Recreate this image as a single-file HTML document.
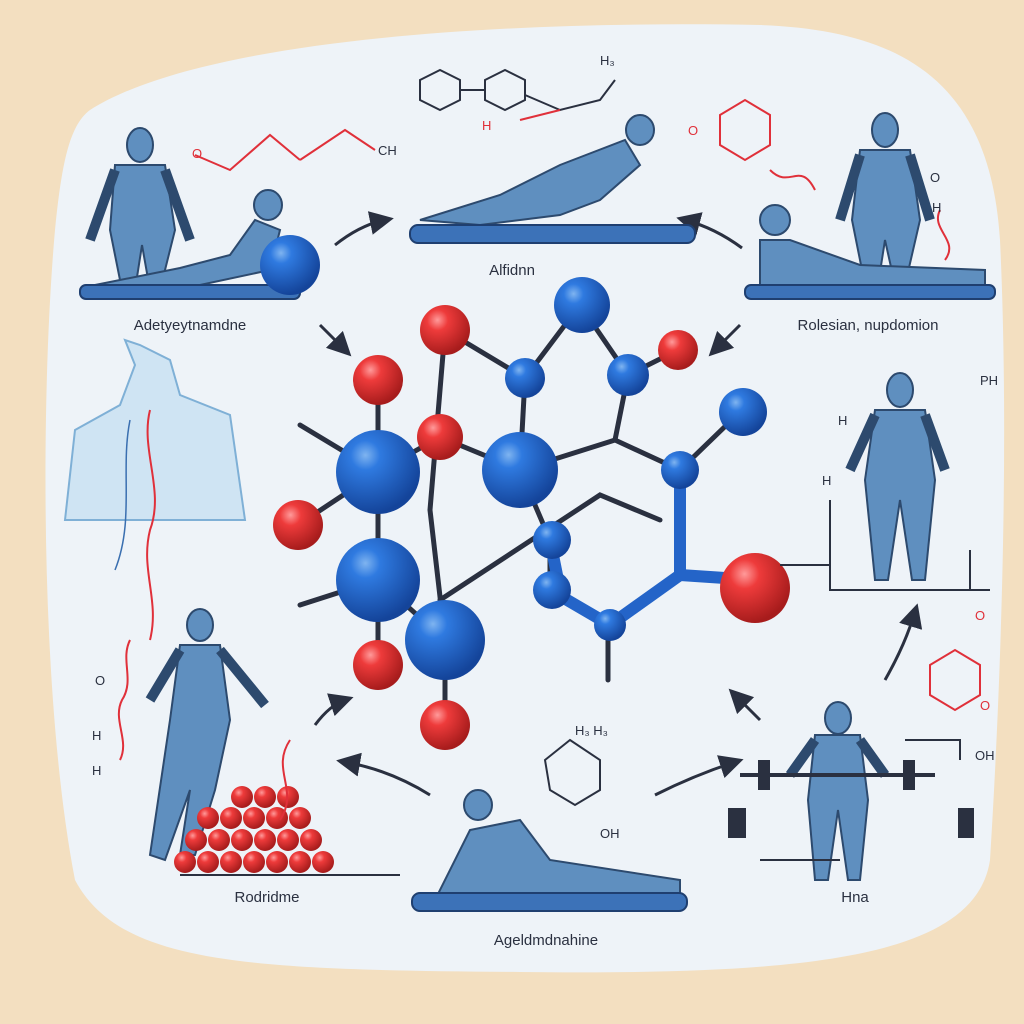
<!DOCTYPE html>
<html><head><meta charset="utf-8"><style>
html,body{margin:0;padding:0;background:#f3dfc0;}
svg{display:block;}
text{font-family:"Liberation Sans",sans-serif;}
</style></head><body>
<svg width="1024" height="1024" viewBox="0 0 1024 1024" xmlns="http://www.w3.org/2000/svg">
<defs>
<radialGradient id="b" cx="35%" cy="30%" r="70%"><stop offset="0" stop-color="#7fb4f0"/><stop offset="0.25" stop-color="#2f7ae0"/><stop offset="1" stop-color="#14449a"/></radialGradient>
<radialGradient id="r" cx="35%" cy="30%" r="70%"><stop offset="0" stop-color="#ff9a9a"/><stop offset="0.3" stop-color="#ee3b3b"/><stop offset="1" stop-color="#a71c1c"/></radialGradient>
<marker id="ar" markerWidth="8" markerHeight="8" refX="5" refY="4" orient="auto"><path d="M0,0 L8,4 L0,8 Z" fill="#2a3040"/></marker>
</defs>
<rect width="1024" height="1024" fill="#f3dfc0"/>
<path d="M90,110 C200,40 500,20 760,25 C900,30 990,80 1000,240 C1010,450 1000,700 990,860 C975,960 800,975 520,972 C250,970 120,965 75,880 C40,700 40,400 55,230 C62,160 70,125 90,110 Z" fill="#eef3f8"/>

<!-- bonds -->
<g stroke="#2a3040" stroke-width="5" fill="none" stroke-linecap="round">
<path d="M378,380 L378,472 L378,580 L378,665"/>
<path d="M300,425 L378,472 L298,525"/>
<path d="M378,472 L440,437"/>
<path d="M300,605 L378,580 L445,640 L445,725"/>
<path d="M445,640 L430,510 L445,330"/>
<path d="M445,330 L525,378 L580,305 L628,375 L678,350"/>
<path d="M525,378 L520,470 L440,437"/>
<path d="M520,470 L615,440 L680,470 L740,412"/>
<path d="M628,375 L615,440"/>
<path d="M520,470 L550,540 L550,590"/>
<path d="M440,600 L600,495 L660,520"/>
<path d="M608,625 L608,680"/>
</g>
<g stroke="#2464c8" stroke-width="12" fill="none" stroke-linecap="round">
<path d="M680,470 L680,575 L755,580"/>
<path d="M550,590 L610,625 L680,575"/>
<path d="M550,540 L560,590"/>
</g>
<!-- atoms -->
<g>
<circle cx="378" cy="380" r="25" fill="url(#r)"/>
<circle cx="445" cy="330" r="25" fill="url(#r)"/>
<circle cx="440" cy="437" r="23" fill="url(#r)"/>
<circle cx="298" cy="525" r="25" fill="url(#r)"/>
<circle cx="678" cy="350" r="20" fill="url(#r)"/>
<circle cx="755" cy="588" r="35" fill="url(#r)"/>
<circle cx="378" cy="665" r="25" fill="url(#r)"/>
<circle cx="445" cy="725" r="25" fill="url(#r)"/>
<circle cx="378" cy="472" r="42" fill="url(#b)"/>
<circle cx="520" cy="470" r="38" fill="url(#b)"/>
<circle cx="378" cy="580" r="42" fill="url(#b)"/>
<circle cx="445" cy="640" r="40" fill="url(#b)"/>
<circle cx="582" cy="305" r="28" fill="url(#b)"/>
<circle cx="525" cy="378" r="20" fill="url(#b)"/>
<circle cx="628" cy="375" r="21" fill="url(#b)"/>
<circle cx="743" cy="412" r="24" fill="url(#b)"/>
<circle cx="680" cy="470" r="19" fill="url(#b)"/>
<circle cx="552" cy="540" r="19" fill="url(#b)"/>
<circle cx="552" cy="590" r="19" fill="url(#b)"/>
<circle cx="610" cy="625" r="16" fill="url(#b)"/>
</g>

<!-- arrows -->
<g stroke="#2a3040" stroke-width="3" fill="none" marker-end="url(#ar)">
<path d="M335,245 Q360,225 385,220"/>
<path d="M742,248 Q715,228 685,220"/>
<path d="M320,325 Q335,340 345,350"/>
<path d="M740,325 Q725,340 715,350"/>
<path d="M315,725 Q330,705 345,700"/>
<path d="M430,795 Q390,770 345,762"/>
<path d="M655,795 Q695,775 735,762"/>
<path d="M760,720 Q745,705 735,695"/>
<path d="M885,680 Q905,645 915,612"/>
</g>

<!-- figures (stylised) -->
<g fill="#5f8fbf" stroke="#2d4a6e" stroke-width="2">
<!-- top-left standing -->
<ellipse cx="140" cy="145" rx="13" ry="17"/>
<path d="M115,165 L165,165 L175,230 L160,290 L150,290 L142,245 L135,290 L122,290 L110,230 Z"/>
<path d="M115,170 L90,240 M165,170 L190,240" stroke-width="10" fill="none"/>
<!-- top-left lying -->
<ellipse cx="268" cy="205" rx="14" ry="15"/>
<path d="M95,285 L180,268 L230,255 L255,220 L280,230 L270,270 L200,285 Z"/>
<!-- top center lying -->
<ellipse cx="640" cy="130" rx="14" ry="15"/>
<path d="M420,220 L500,195 L560,165 L625,140 L640,165 L600,200 L560,215 L480,225 Z"/>
<!-- top right standing -->
<ellipse cx="885" cy="130" rx="13" ry="17"/>
<path d="M860,150 L910,150 L920,220 L905,285 L895,285 L885,240 L878,285 L865,285 L852,220 Z"/>
<path d="M860,155 L840,220 M910,155 L930,220" stroke-width="10" fill="none"/>
<!-- top right lying -->
<ellipse cx="775" cy="220" rx="15" ry="15"/>
<path d="M760,240 L790,240 L860,265 L985,270 L985,285 L860,285 L760,285 Z"/>
<!-- right standing -->
<ellipse cx="900" cy="390" rx="13" ry="17"/>
<path d="M875,410 L925,410 L935,480 L925,580 L912,580 L900,500 L888,580 L875,580 L865,480 Z"/>
<path d="M875,415 L850,470 M925,415 L945,470" stroke-width="10" fill="none"/>
<!-- bottom right lifter -->
<ellipse cx="838" cy="718" rx="13" ry="16"/>
<path d="M815,735 L860,735 L868,800 L860,880 L848,880 L838,810 L828,880 L815,880 L808,800 Z"/>
<path d="M815,740 L790,775 M860,740 L885,775" stroke-width="10" fill="none"/>
<!-- bottom center lying -->
<ellipse cx="478" cy="805" rx="14" ry="15"/>
<path d="M435,900 L470,830 L520,820 L550,860 L680,880 L680,895 L540,895 L470,900 Z"/>
<!-- bottom left walker -->
<ellipse cx="200" cy="625" rx="13" ry="16"/>
<path d="M180,645 L220,645 L230,720 L215,790 L195,855 L180,855 L190,790 L165,860 L150,855 L170,720 Z"/>
<path d="M180,650 L150,700 M220,650 L265,705" stroke-width="10" fill="none"/>
</g>

<!-- torso left -->
<path d="M65,520 L75,430 L120,405 L135,365 L125,340 L140,345 L170,360 L180,395 L230,415 L245,520 Z" fill="#cfe4f3" stroke="#7fb0d6" stroke-width="2"/>
<path d="M150,410 C140,450 165,490 150,530 C140,570 160,600 150,640" stroke="#e0303a" stroke-width="2" fill="none"/>
<path d="M130,420 C120,470 135,520 115,570" stroke="#3a6fb0" stroke-width="1.5" fill="none"/>

<!-- mats -->
<g fill="#3c72b8" stroke="#1f3f70" stroke-width="2">
<rect x="80" y="285" width="220" height="14" rx="6"/>
<rect x="410" y="225" width="285" height="18" rx="8"/>
<rect x="745" y="285" width="250" height="14" rx="6"/>
<rect x="412" y="893" width="275" height="18" rx="8"/>
</g>
<circle cx="290" cy="265" r="30" fill="url(#b)"/>

<!-- red balls pile -->
<g fill="url(#r)">
<circle cx="185" cy="862" r="11"/><circle cx="208" cy="862" r="11"/><circle cx="231" cy="862" r="11"/><circle cx="254" cy="862" r="11"/><circle cx="277" cy="862" r="11"/><circle cx="300" cy="862" r="11"/><circle cx="323" cy="862" r="11"/>
<circle cx="196" cy="840" r="11"/><circle cx="219" cy="840" r="11"/><circle cx="242" cy="840" r="11"/><circle cx="265" cy="840" r="11"/><circle cx="288" cy="840" r="11"/><circle cx="311" cy="840" r="11"/>
<circle cx="208" cy="818" r="11"/><circle cx="231" cy="818" r="11"/><circle cx="254" cy="818" r="11"/><circle cx="277" cy="818" r="11"/><circle cx="300" cy="818" r="11"/>
<circle cx="242" cy="797" r="11"/><circle cx="265" cy="797" r="11"/><circle cx="288" cy="797" r="11"/>
</g>
<line x1="180" y1="875" x2="400" y2="875" stroke="#2a3040" stroke-width="2"/>

<!-- barbell -->
<g stroke="#2a3040" stroke-width="4" fill="#2a3040">
<line x1="740" y1="775" x2="935" y2="775"/>
<rect x="760" y="762" width="8" height="26"/><rect x="905" y="762" width="8" height="26"/>
<rect x="730" y="810" width="14" height="26"/><rect x="960" y="810" width="12" height="26"/>
</g>

<!-- chem sketches -->
<g stroke="#2a3040" stroke-width="2" fill="none">
<path d="M420,80 L440,70 L460,80 L460,100 L440,110 L420,100 Z"/>
<path d="M485,80 L505,70 L525,80 L525,100 L505,110 L485,100 Z"/>
<path d="M460,90 L485,90 M525,95 L560,110 L600,100 L615,80"/>
<path d="M780,565 L830,565 M830,500 L830,590 L990,590 M970,550 L970,590"/>
<path d="M905,740 L960,740 L960,760 M760,860 L840,860"/>
<path d="M545,760 L570,740 L600,760 L600,790 L575,805 L550,790 Z" stroke="#2a3040"/>
</g>
<g stroke="#e0303a" stroke-width="2" fill="none">
<path d="M720,115 L745,100 L770,115 L770,145 L745,160 L720,145 Z"/>
<path d="M195,155 L230,170 L270,135 L300,160 M300,160 L345,130 L375,150"/>
<path d="M930,665 L955,650 L980,665 L980,695 L955,710 L930,695 Z"/>
<path d="M130,640 C120,660 135,680 122,700 C112,720 130,740 120,760"/>
<path d="M290,740 C270,770 300,790 280,820"/>
<path d="M770,170 C790,190 800,160 815,190 M940,210 C930,230 960,240 945,260"/>
<path d="M520,120 L560,110"/>
</g>

<!-- labels -->
<g font-size="15" fill="#2a3040" text-anchor="middle">
<text x="190" y="330">Adetyeytnamdne</text>
<text x="512" y="275">Alfidnn</text>
<text x="868" y="330">Rolesian, nupdomion</text>
<text x="267" y="902">Rodridme</text>
<text x="546" y="945">Ageldmdnahine</text>
<text x="855" y="902">Hna</text>
</g>
<g font-size="13" fill="#2a3040">
<text x="600" y="65">H₃</text><text x="378" y="155">CH</text>
<text x="838" y="425">H</text><text x="980" y="385">PH</text>
<text x="822" y="485">H</text><text x="95" y="685">O</text>
<text x="92" y="740">H</text><text x="92" y="775">H</text>
<text x="575" y="735">H₃ H₃</text><text x="600" y="838">OH</text>
<text x="975" y="760">OH</text><text x="930" y="182">O</text>
<text x="932" y="212">H</text>
</g>
<g font-size="13" fill="#e0303a">
<text x="192" y="158">O</text><text x="482" y="130">H</text>
<text x="688" y="135">O</text><text x="980" y="710">O</text>
<text x="975" y="620">O</text>
</g>
</svg>
</body></html>
